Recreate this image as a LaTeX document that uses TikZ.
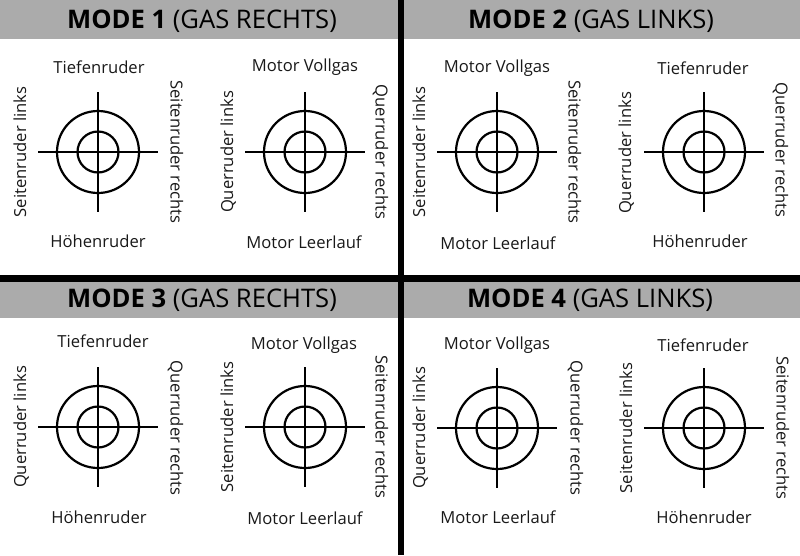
\documentclass[tikz,border=0pt]{standalone}
\usepackage{fontspec}
\setmainfont{Open Sans}
\definecolor{bandgray}{HTML}{ABABAB}
\tikzset{
  ruler/.style={line width=2.2pt,black},
  band/.style={fill=bandgray,draw=none},
  divider/.style={fill=black,draw=none},
  ring/.style={circle,draw=black,line width=2.2pt,inner sep=0pt,fill=none},
  lab/.style={font=\fontsize{16.6pt}{18pt}\selectfont,inner sep=0pt,text height=12pt,text depth=0pt,text=black!90},
  latl/.style={lab,rotate=90},
  latr/.style={lab,rotate=-90,yshift=1.5pt},
  head/.style={font=\fontsize{25.6pt}{28pt}\selectfont,inner sep=0pt,text=black,text height=18pt,text depth=0pt}
}
\newcommand{\stick}[3]{%
  \node[ring,minimum size=82pt] (#1o) at (#2,#3) {};
  \node[ring,minimum size=41pt] (#1i) at (#2,#3) {};
  \coordinate (#1t) at (#2,#3-60);
  \coordinate (#1b) at (#2,#3+60);
  \coordinate (#1l) at (#2-60,#3);
  \coordinate (#1r) at (#2+60,#3);
  \draw[ruler] (#1t) -- (#1b);
  \draw[ruler] (#1l) -- (#1r);
}
\begin{document}
\begin{tikzpicture}[x=1pt,y=-1pt]
\useasboundingbox (0,0) rectangle (800,555);
\fill[white] (0,0) rectangle (800,555);
\fill[band] (0,0) rectangle (800,39);
\fill[band] (0,281) rectangle (800,318);
\fill[divider] (0,275) rectangle (800,281.5);
\fill[divider] (398,0) rectangle (403.5,555);
\node[head] (h1) at (202,19) {\textbf{MODE 1} (GAS RECHTS)};
\node[head] (h2) at (591,19) {\textbf{MODE 2} (GAS LINKS)};
\node[head] (h3) at (202,298) {\textbf{MODE 3} (GAS RECHTS)};
\node[head] (h4) at (590,298) {\textbf{MODE 4} (GAS LINKS)};
\stick{a}{98}{152}
\stick{b}{305}{152}
\stick{c}{497}{152}
\stick{d}{704}{152}
\stick{e}{98}{427}
\stick{f}{305}{427}
\stick{g}{497}{428}
\stick{h}{704}{428}
% Mode 1
\node[lab] (a1) at (99,67) {Tiefenruder};
\node[lab] (a2) at (98,241) {Höhenruder};
\node[latl] (a3) at (20,152) {Seitenruder links};
\node[latr] (a4) at (175,152) {Seitenruder rechts};
\node[lab] (b1) at (305,65) {Motor Vollgas};
\node[lab] (b2) at (304,242) {Motor Leerlauf};
\node[latl] (b3) at (227,152) {Querruder links};
\node[latr] (b4) at (380,152) {Querruder rechts};
% Mode 2
\node[lab] (c1) at (497,66) {Motor Vollgas};
\node[lab] (c2) at (498,243) {Motor Leerlauf};
\node[latl] (c3) at (419,152) {Seitenruder links};
\node[latr] (c4) at (573,152) {Seitenruder rechts};
\node[lab] (d1) at (703,68) {Tiefenruder};
\node[lab] (d2) at (700,241) {Höhenruder};
\node[latl] (d3) at (625,153) {Querruder links};
\node[latr] (d4) at (780,150) {Querruder rechts};
% Mode 3
\node[lab] (e1) at (103,341) {Tiefenruder};
\node[lab] (e2) at (99,517) {Höhenruder};
\node[latl] (e3) at (20,427) {Querruder links};
\node[latr] (e4) at (175,428) {Querruder rechts};
\node[lab] (f1) at (304,343) {Motor Vollgas};
\node[lab] (f2) at (305,518) {Motor Leerlauf};
\node[latl] (f3) at (227,427) {Seitenruder links};
\node[latr] (f4) at (380,427) {Seitenruder rechts};
% Mode 4
\node[lab] (g1) at (497,343) {Motor Vollgas};
\node[lab] (g2) at (498,517) {Motor Leerlauf};
\node[latl] (g3) at (419,428) {Querruder links};
\node[latr] (g4) at (575,428) {Querruder rechts};
\node[lab] (h1l) at (703,345) {Tiefenruder};
\node[lab] (h2l) at (704,517) {Höhenruder};
\node[latl] (h3l) at (626,428) {Seitenruder links};
\node[latr] (h4l) at (781,428) {Seitenruder rechts};
\end{tikzpicture}
\end{document}
